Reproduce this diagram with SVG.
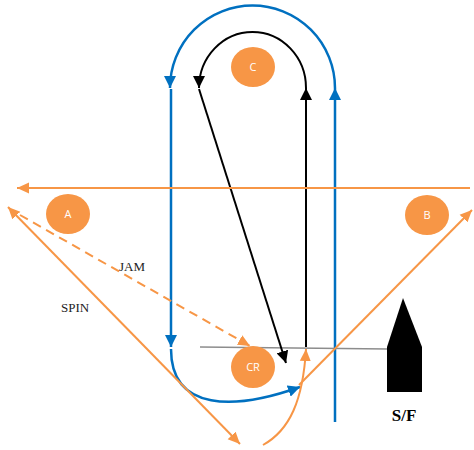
<svg xmlns="http://www.w3.org/2000/svg" width="474" height="450" viewBox="0 0 474 450">
<style>
.b{fill:none;stroke:#0070C0;stroke-width:2.5}
.k{fill:none;stroke:#000;stroke-width:2}
.o{fill:none;stroke:#F79646;stroke-width:2}
.g{fill:none;stroke:#8C8C8C;stroke-width:1.5}
.n{fill:#F79646}
.nt{font-family:"Open Sans","Liberation Sans",sans-serif;font-size:11px;fill:#fff;text-anchor:middle}
.lbl{font-family:"Liberation Serif",serif;font-size:13px;fill:#222}
</style>
<defs>
<marker id="mb" markerUnits="userSpaceOnUse" markerWidth="12" markerHeight="12" viewBox="0 0 12 12" refX="12" refY="6" orient="auto"><path d="M0,0L12,6L0,12Z" fill="#0070C0"/></marker>
<marker id="mk" markerUnits="userSpaceOnUse" markerWidth="12" markerHeight="12" viewBox="0 0 12 12" refX="12" refY="6" orient="auto"><path d="M0,0L12,6L0,12Z" fill="#000"/></marker>
<marker id="mo" markerUnits="userSpaceOnUse" markerWidth="12" markerHeight="12" viewBox="0 0 12 12" refX="12" refY="6" orient="auto-start-reverse"><path d="M0,0.5L12,6L0,11.5Z" fill="#F79646"/></marker>
</defs>
<g id="connectors">
<path class="g" d="M200,347L388,349"/>
<path class="b" d="M335,422V88" marker-end="url(#mb)"/>
<path class="b" d="M335,88A82.5,82.5 0 0 0 170,88" marker-end="url(#mb)"/>
<path class="b" d="M171,89V347" marker-end="url(#mb)"/>
<path class="b" d="M171,349C171,412 235,410 300,387" marker-end="url(#mb)"/>
<path class="k" d="M306,347V88" marker-end="url(#mk)"/>
<path class="k" d="M306,88A53.5,56 0 0 0 199,88" marker-end="url(#mk)"/>
<path class="k" d="M199,89L286,363" marker-end="url(#mk)"/>
<path class="o" d="M470,188H17" marker-end="url(#mo)"/>
<path class="o" d="M20,215L250,346" stroke-dasharray="9,6" marker-end="url(#mo)"/>
<path class="o" d="M8,207L240,444" marker-start="url(#mo)" marker-end="url(#mo)"/>
<path class="o" d="M263,445C290,430 303,400 306,349" marker-end="url(#mo)"/>
<path class="o" d="M299,385L472,210" marker-end="url(#mo)"/>
</g>
<g id="A"><ellipse class="n" cx="68" cy="214" rx="22" ry="20"/><text class="nt" x="68" y="218">A</text></g>
<g id="B"><ellipse class="n" cx="427" cy="215" rx="22" ry="20"/><text class="nt" x="427" y="219">B</text></g>
<g id="C"><ellipse class="n" cx="253" cy="67" rx="22" ry="20"/><text class="nt" x="253" y="71">C</text></g>
<g id="CR"><ellipse class="n" cx="253" cy="367" rx="22" ry="21"/><text class="nt" x="253" y="371">CR</text></g>
<g id="SF"><path d="M403,298L422,347V392H387V347Z" fill="#000"/><text x="404" y="421" font-family="Liberation Serif,serif" font-size="17" font-weight="bold" text-anchor="middle">S/F</text></g>
<text class="lbl" x="119" y="271">JAM</text>
<text class="lbl" x="61" y="312">SPIN</text>
</svg>
